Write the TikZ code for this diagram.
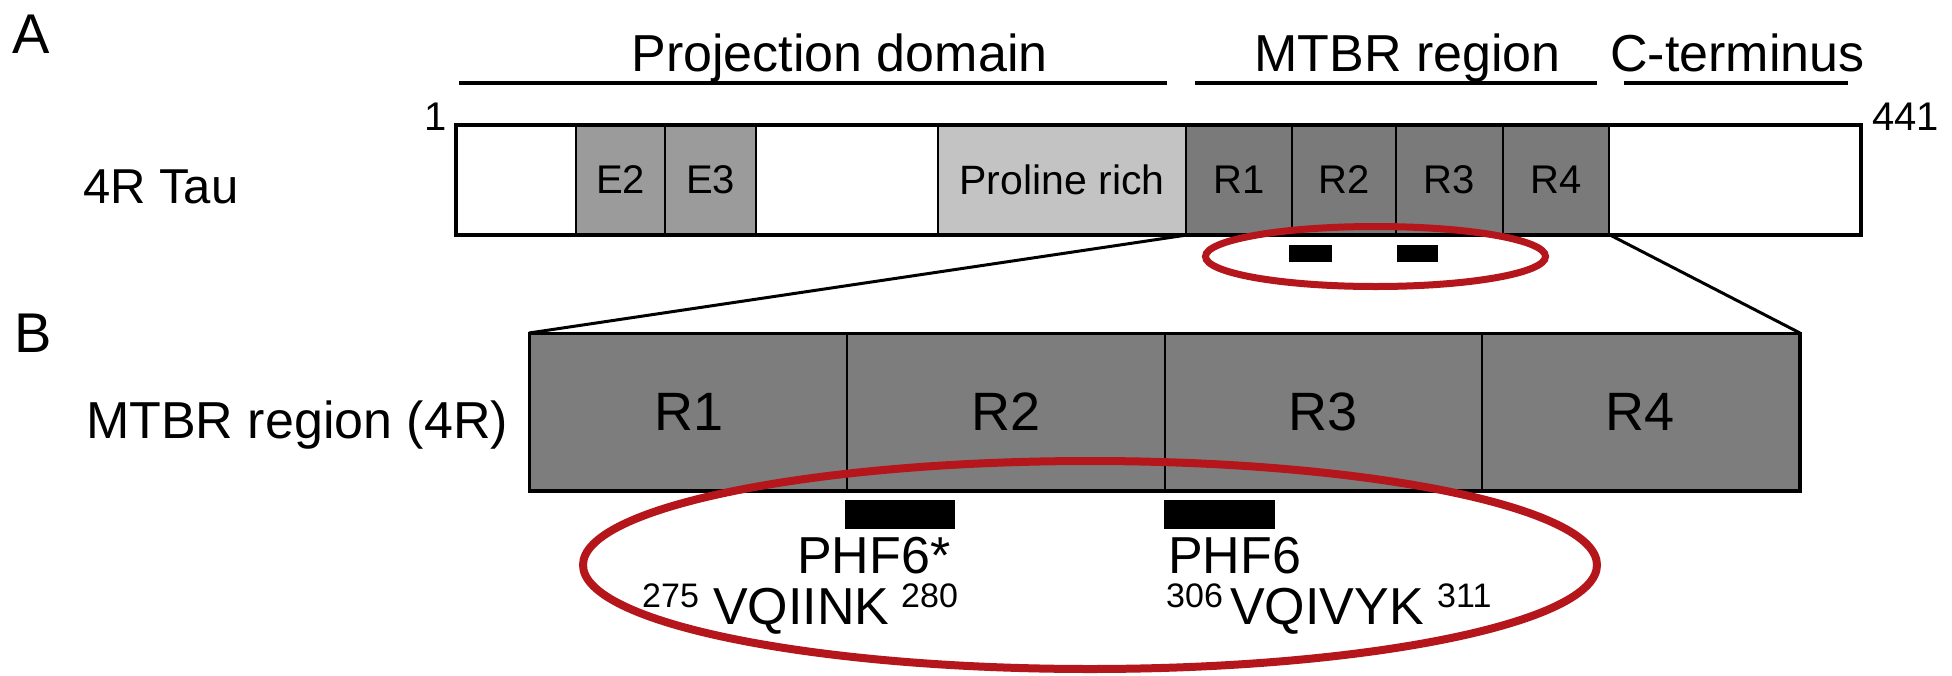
\documentclass[tikz,border=0pt]{standalone}
\usepackage{fontspec}
\setmainfont{Liberation Sans}
\usetikzlibrary{shapes.geometric}
\definecolor{ovalred}{HTML}{B5161B}
\definecolor{exongray}{HTML}{9B9B9B}
\definecolor{progray}{HTML}{C3C3C3}
\definecolor{repgray}{HTML}{7A7A7A}
\definecolor{mtbrgray}{HTML}{7D7D7D}
\newcommand{\fsz}[1]{\fontsize{#1}{#1}\selectfont}
\begin{document}
\begin{tikzpicture}[x=1pt,y=-1pt,
  seg/.style={draw, line width=2, inner sep=0, minimum height=108, anchor=north west, font=\fsz{40}},
  bseg/.style={draw, line width=2, inner sep=0, minimum height=156, minimum width=317.25, anchor=north west, fill=mtbrgray, font=\fsz{54}},
  blackbar/.style={fill=black, inner sep=0, anchor=north west},
  hdr/.style={anchor=base, inner sep=0, font=\fsz{52}},
  hline/.style={line width=3.5},
  conn/.style={line width=3},
  txt/.style={anchor=base west, inner sep=0, font=\fsz{52}},
  supn/.style={anchor=base west, inner sep=0, font=\fsz{34}},
  oval/.style={draw=ovalred, ellipse, inner sep=0}
]
\fill[white] (0,0) rectangle (1952,675);
\useasboundingbox (0,0) rectangle (1952,675);

% panel letters
\node[anchor=base west, inner sep=0, font=\fsz{56}] (lblA) at (12,53) {A};
\node[anchor=base west, inner sep=0, font=\fsz{56}] (lblB) at (14,352) {B};

% headers
\node[hdr] (projlbl) at (839.5,71) {Projection domain};
\node[hdr] (mtbrlbl) at (1407.5,71) {MTBR region};
\node[hdr] (ctlbl) at (1737.5,71) {C-terminus};
\coordinate (p1) at (459,83); \coordinate (p2) at (1167,83);
\coordinate (m1) at (1195,83); \coordinate (m2) at (1597,83);
\coordinate (c1) at (1624,83); \coordinate (c2) at (1848,83);
\draw[hline] (p1) -- (p2);
\draw[hline] (m1) -- (m2);
\draw[hline] (c1) -- (c2);

% 4R Tau bar
\node[anchor=base west, inner sep=0, font=\fsz{49}] (taulbl) at (83,203) {4R Tau};
\node[anchor=base east, inner sep=0, font=\fsz{40}] (one) at (447,130) {1};
\node[anchor=base west, inner sep=0, font=\fsz{40}] (end) at (1872,130) {441};

\node[seg, fill=white, minimum width=119] (nt) at (456,125) {};
\node[seg, fill=exongray, minimum width=89] (e2) at (575,125) {E2};
\node[seg, fill=exongray, minimum width=91] (e3) at (664,125) {E3};
\node[seg, fill=white, minimum width=182] (w2) at (755,125) {};
\node[seg, fill=progray, minimum width=248, font=\fsz{41}] (pro) at (937,125) {Proline rich};
\node[seg, fill=repgray, minimum width=106] (r1) at (1185,125) {R1};
\node[seg, fill=repgray, minimum width=104] (r2) at (1291,125) {R2};
\node[seg, fill=repgray, minimum width=107] (r3) at (1395,125) {R3};
\node[seg, fill=repgray, minimum width=106] (r4) at (1502,125) {R4};
\node[seg, fill=white, minimum width=251] (ct) at (1608,125) {};
\draw[line width=3.5] (nt.north west) rectangle (ct.south east);

% small marks
\node[blackbar, minimum width=43, minimum height=17] (sm1) at (1289,245) {};
\node[blackbar, minimum width=41, minimum height=17] (sm2) at (1397,245) {};
\node[oval, line width=7, minimum width=340, minimum height=60] (smalloval) at (1375.5,256.5) {};

% MTBR region box
\node[anchor=base west, inner sep=0, font=\fsz{52}] (mtbrb) at (86,438) {MTBR region (4R)};
\node[bseg] (b1) at (529,333) {R1};
\node[bseg] (b2) at (846.25,333) {R2};
\node[bseg] (b3) at (1163.5,333) {R3};
\node[bseg] (b4) at (1480.75,333) {R4};
\draw[line width=3] (b1.north west) rectangle (b4.south east);

% zoom connectors
\draw[conn] (pro.south east) -- (b1.north west);
\draw[conn] (r4.south east) -- (b4.north east);

% PHF6 marks
\node[blackbar, minimum width=110, minimum height=29] (bm1) at (845,500) {};
\node[blackbar, minimum width=111, minimum height=29] (bm2) at (1164,500) {};

\node[txt] (phfs) at (797,573) {PHF6*};
\node[supn] (n275) at (642,607) {275};
\node[txt] (seq1) at (713,624) {VQIINK};
\node[supn] (n280) at (901,607) {280};

\node[txt] (phf) at (1168,573) {PHF6};
\node[supn] (n306) at (1166,607) {306};
\node[txt] (seq2) at (1230,624) {VQIVYK};
\node[supn] (n311) at (1437,607) {311};

\node[oval, line width=8, minimum width=1014, minimum height=208] (bigoval) at (1090,565) {};
\end{tikzpicture}
\end{document}
